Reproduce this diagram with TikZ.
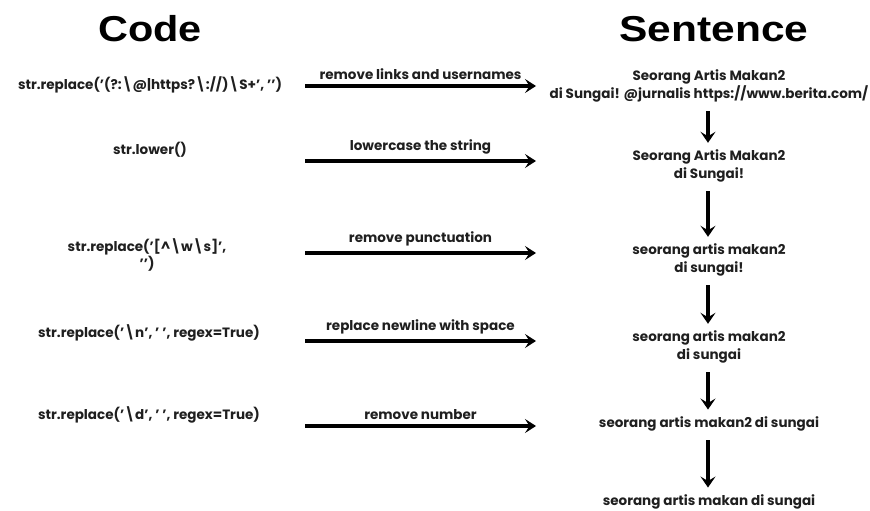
\documentclass[tikz,border=0pt]{standalone}
\usepackage{fontspec}
\setmainfont{Poppins}
\newfontfamily\titlefont{Liberation Sans}
\usetikzlibrary{arrows.meta}
\begin{document}
\begin{tikzpicture}[x=1pt,y=-1pt,
  txt/.style={font=\fontsize{13.5}{17.5}\selectfont\bfseries, align=center, inner sep=0pt, text=black!88},
  ttl/.style={font=\titlefont\bfseries\fontsize{36}{40}\selectfont, inner sep=0pt},
  harrow/.style={line width=3.2pt, -{Stealth[length=11pt,width=14pt,inset=4.5pt]}},
  varrow/.style={line width=3.2pt, -{Stealth[length=11pt,width=15pt,inset=4.5pt]}, shorten <=9pt, shorten >=7pt},
  lab/.style={txt, above=5pt, midway}]
\useasboundingbox (0,0) rectangle (870,511);
\node[ttl] (tc) at (150,29) {\scalebox{1.15}[1]{Code}};
\node[ttl] (ts) at (714,29) {\scalebox{1.18}[1]{Sentence}};
% code column
\node[txt] (c1) at (150,85) {str.replace('(?:\textbackslash @|https?\textbackslash :/\kern0pt/)\textbackslash S+', '{}')};
\node[txt] (c2) at (150,150) {str.lower()};
\node[txt] (c3) at (147,255) {str.replace('[\textasciicircum\textbackslash w\textbackslash s]',\\'{}')};
\node[txt] (c4) at (149,333) {str.replace('\textbackslash n', ' ', regex=True)};
\node[txt] (c5) at (149,415) {str.replace('\textbackslash d', ' ', regex=True)};
% sentence column
\node[txt] (s1) at (709,86) {Seorang Artis Makan2\\di Sungai! @jurnalis https://www.berita.com/};
\node[txt] (s2) at (709,166) {Seorang Artis Makan2\\di Sungai!};
\node[txt] (s3) at (709,260) {seorang artis makan2\\di sungai!};
\node[txt] (s4) at (709,347) {seorang artis makan2\\di sungai};
\node[txt] (s5) at (709,424) {seorang artis makan2 di sungai};
\node[txt] (s6) at (709,502) {seorang artis makan di sungai};
% horizontal arrows
\coordinate (h1a) at (305,86);  \coordinate (h1b) at (536,86);
\coordinate (h2a) at (305,161); \coordinate (h2b) at (536,161);
\coordinate (h3a) at (305,253); \coordinate (h3b) at (536,253);
\coordinate (h4a) at (305,341); \coordinate (h4b) at (536,341);
\coordinate (h5a) at (305,426); \coordinate (h5b) at (536,426);
\draw[harrow] (h1a) -- node[lab]{remove links and usernames} (h1b);
\draw[harrow] (h2a) -- node[lab]{lowercase the string} (h2b);
\draw[harrow] (h3a) -- node[lab]{remove punctuation} (h3b);
\draw[harrow] (h4a) -- node[lab]{replace newline with space} (h4b);
\draw[harrow] (h5a) -- node[lab]{remove number} (h5b);
% vertical arrows
\draw[varrow] (s1.south -| 708,0) -- (s2.north -| 708,0);
\draw[varrow] (s2.south -| 708,0) -- (s3.north -| 708,0);
\draw[varrow] (s3.south -| 708,0) -- (s4.north -| 708,0);
\draw[varrow] (s4.south -| 708,0) -- (s5.north -| 708,0);
\draw[varrow] (s5.south -| 708,0) -- (s6.north -| 708,0);
\end{tikzpicture}
\end{document}
